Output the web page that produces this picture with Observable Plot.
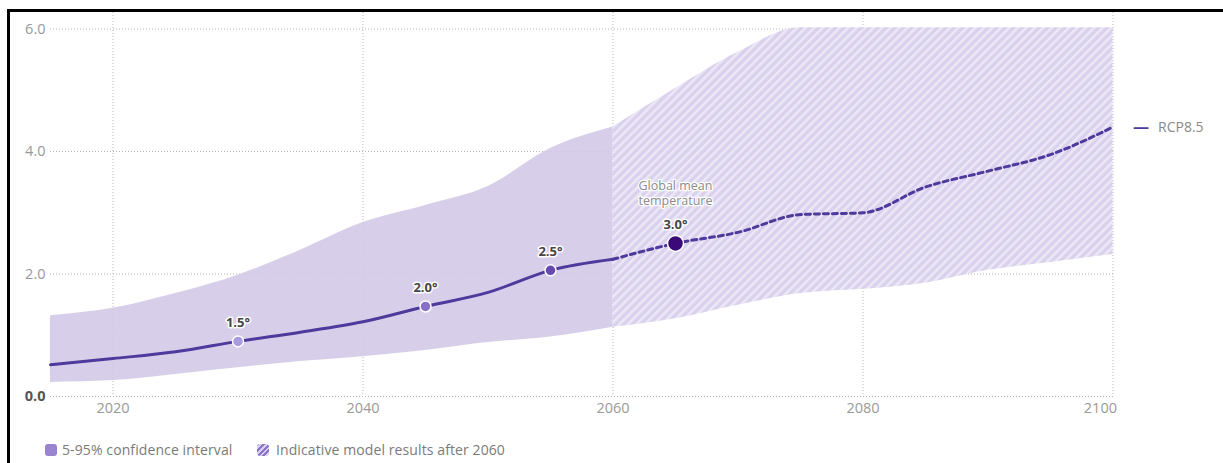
<!DOCTYPE html>
<html><head><meta charset="utf-8">
<script src="https://cdn.jsdelivr.net/npm/d3@7"></script>
<script src="https://cdn.jsdelivr.net/npm/@observablehq/plot@0.6"></script>
<style>
body{margin:0;background:#fff;font-family:"Open Sans",sans-serif;}
#wrap{position:relative;width:1223px;height:463px;overflow:hidden;background:#fff;}
#chart{position:absolute;left:0;top:0;}
#frameTop{position:absolute;left:7px;top:9px;right:0;height:3px;background:#000;}
#frameLeft{position:absolute;left:7px;top:9px;width:3px;bottom:0;background:#000;}
.lg{position:absolute;top:440px;font-size:14px;color:#7a7a7a;white-space:nowrap;line-height:20px;letter-spacing:0.1px;}
.sw{position:absolute;top:444px;width:12px;height:12px;border-radius:3px;}
#sw1{left:45px;background:#9a84d0;}
#sw2{left:257px;background:repeating-linear-gradient(135deg,#8d74cb 0 2px,#d9cff1 2px 4px);}
</style></head>
<body>
<div id="wrap">
  <div id="chart"></div>
  <div id="frameTop"></div><div id="frameLeft"></div>
  <span class="sw" id="sw1"></span><span class="lg" id="lg1" style="left:62px"></span>
  <span class="sw" id="sw2"></span><span class="lg" id="lg2" style="left:276px"></span>
</div>
<script>
const years = [2015,2020,2025,2030,2035,2040,2045,2050,2055,2060,2065,2070,2075,2080,2085,2090,2095,2100];
const meanTemp = [0.52,0.62,0.73,0.90,1.05,1.22,1.47,1.70,2.06,2.24,2.50,2.68,2.97,3.00,3.42,3.68,3.95,4.40];
const upper = [1.32,1.44,1.68,1.98,2.39,2.84,3.12,3.43,4.05,4.40,5.03,5.62,6.02,6.02,6.02,6.02,6.02,6.02];
const lower = [0.23,0.26,0.36,0.47,0.57,0.65,0.75,0.88,0.97,1.13,1.27,1.49,1.68,1.75,1.85,2.06,2.19,2.32];
const milestoneYears = [2030,2045,2055,2065];
const milestoneLabels = ["1.5°","2.0°","2.5°","3.0°"];
const milestoneColors = ["#a99be0","#8770c6","#6549b0","#3b0a78"];
const milestoneRadius = [5.5,5.5,5.5,8];
const indicativeFrom = 2060;
const xTicks = [2020,2040,2060,2080,2100];
const yTicks = [0,2,4,6];
const seriesName = "RCP8.5";
const annotation = "Global mean\ntemperature";
const legendLabels = ["5-95% confidence interval","Indicative model results after 2060"];

document.getElementById("lg1").textContent = legendLabels[0];
document.getElementById("lg2").textContent = legendLabels[1];

const rows = years.map((y,i)=>({year:y, mean:meanTemp[i], hi:upper[i], lo:lower[i]}));
const solidRows = rows.filter(d=>d.year<=indicativeFrom);
const dashRows = rows.filter(d=>d.year>=indicativeFrom);
const milestones = milestoneYears.map((y,i)=>({year:y, value:meanTemp[years.indexOf(y)], label:milestoneLabels[i], color:milestoneColors[i], r:milestoneRadius[i]}));
const last = rows[rows.length-1];
const lineColor = "#4d3a9c";
const curve = "monotone-x";
const axisStyle = {tickSize:0, tickPadding:6, fontSize:14.5, color:"#9a9a9a", label:null};

const chart = Plot.plot({
  width:1223, height:425,
  marginLeft:50, marginRight:108, marginTop:12, marginBottom:29,
  style:{fontFamily:"'Open Sans',sans-serif", background:"transparent"},
  x:{domain:[2015,2100.2]},
  y:{domain:[0,6.27]},
  r:{type:"identity"},
  color:{type:"identity"},
  marks:[
    Plot.gridX(xTicks,{stroke:"#b5b5b5", strokeOpacity:1, strokeDasharray:"1,2"}),
    Plot.gridY(yTicks,{stroke:"#b5b5b5", strokeOpacity:1, strokeDasharray:"1,2"}),
    Plot.areaY(solidRows,{x:"year", y1:"lo", y2:"hi", fill:"#d1c8e6", fillOpacity:0.88, curve}),
    Plot.areaY(dashRows,{x:"year", y1:"lo", y2:"hi", fill:"url(#hatch)", fillOpacity:0.92, curve}),
    Plot.line(solidRows,{x:"year", y:"mean", stroke:lineColor, strokeWidth:3, curve}),
    Plot.line(dashRows,{x:"year", y:"mean", stroke:lineColor, strokeWidth:3, strokeDasharray:"5,4", curve}),
    Plot.dot(milestones,{x:"year", y:"value", r:"r", fill:"color", stroke:"white", strokeWidth:1.5}),
    Plot.text(milestones,{x:"year", y:"value", text:"label", dy:-19, fill:"#454545", fontWeight:"bold", fontSize:13, stroke:"white", strokeWidth:3}),
    Plot.text([milestones[3]],{x:"year", y:"value", text:()=>annotation, dy:-51, fill:"#8a8a8a", fontSize:12.5, lineHeight:1.25, stroke:"white", strokeWidth:2.5}),
    Plot.text([last],{x:"year", y:"mean", text:()=>"—", dx:28, fill:lineColor, fontWeight:"bold", fontSize:16}),
    Plot.text([last],{x:"year", y:"mean", text:()=>seriesName, dx:45, textAnchor:"start", fill:"#8a8a8a", fontSize:14}),
    Plot.axisX(xTicks.slice(0,-1),{...axisStyle, tickFormat:d=>String(d)}),
    Plot.axisX(xTicks.slice(-1),{...axisStyle, tickFormat:d=>String(d), textAnchor:"end", dx:4}),
    Plot.axisY(yTicks.slice(1),{...axisStyle, tickPadding:5, tickFormat:d=>d.toFixed(1)}),
    Plot.axisY(yTicks.slice(0,1),{...axisStyle, tickPadding:5, color:"#555", fontWeight:"bold", tickFormat:d=>d.toFixed(1)})
  ]
});
const defs = d3.select(chart).insert("defs",":first-child");
const pat = defs.append("pattern").attr("id","hatch").attr("patternUnits","userSpaceOnUse")
  .attr("width",6).attr("height",6).attr("patternTransform","rotate(45)");
pat.append("rect").attr("width",6).attr("height",6).attr("fill","#d6cdeb");
pat.append("rect").attr("width",2.6).attr("height",6).attr("fill","#ebe6f5");
document.getElementById("chart").appendChild(chart);
</script>
</body></html>
